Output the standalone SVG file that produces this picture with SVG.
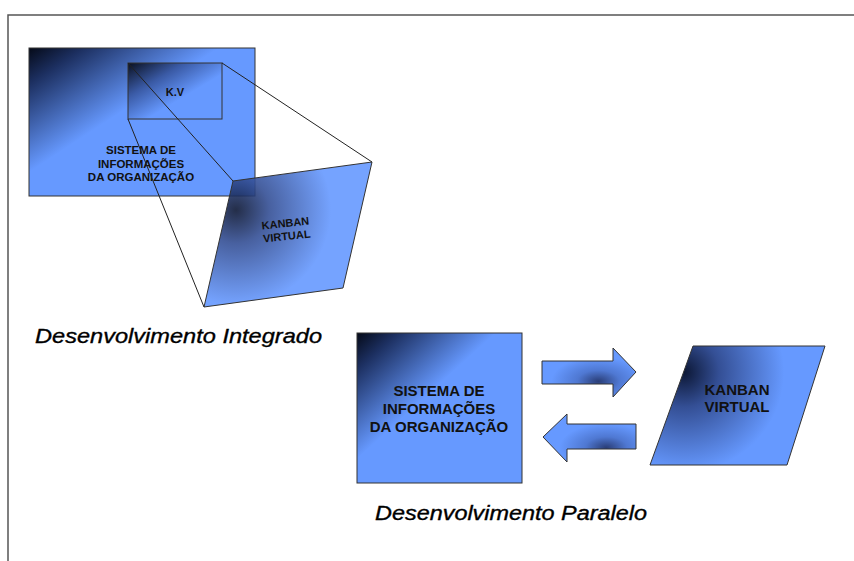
<svg xmlns="http://www.w3.org/2000/svg" width="854" height="561" viewBox="0 0 854 561">
<defs>
<linearGradient id="gBig" x1="0" y1="0" x2="1" y2="1">
<stop offset="0" stop-color="#050a18"/>
<stop offset="0.12" stop-color="#1c2f60"/>
<stop offset="0.42" stop-color="#6699ff"/>
<stop offset="1" stop-color="#6699ff"/>
</linearGradient>
<linearGradient id="gKV" x1="0" y1="0" x2="1" y2="1">
<stop offset="0" stop-color="#0a1020"/>
<stop offset="0.3" stop-color="#3a5aa5"/>
<stop offset="0.6" stop-color="#6699ff"/>
<stop offset="1" stop-color="#6699ff"/>
</linearGradient>
<radialGradient id="gParTop" gradientUnits="userSpaceOnUse" cx="236" cy="210" r="95">
<stop offset="0" stop-color="#0c1735"/>
<stop offset="0.35" stop-color="#344f95"/>
<stop offset="1" stop-color="#6699ff"/>
</radialGradient>
<radialGradient id="gParBot" gradientUnits="userSpaceOnUse" cx="684" cy="372" r="100">
<stop offset="0" stop-color="#0c1735"/>
<stop offset="0.35" stop-color="#344f95"/>
<stop offset="1" stop-color="#6699ff"/>
</radialGradient>
<radialGradient id="gArrowR" cx="0.6" cy="0.68" r="0.5">
<stop offset="0" stop-color="#2a3e78"/>
<stop offset="0.45" stop-color="#4f78d2"/>
<stop offset="1" stop-color="#6699ff"/>
</radialGradient>
<radialGradient id="gArrowL" cx="0.68" cy="0.7" r="0.5">
<stop offset="0" stop-color="#2a3e78"/>
<stop offset="0.45" stop-color="#4f78d2"/>
<stop offset="1" stop-color="#6699ff"/>
</radialGradient>
</defs>
<style>
.frame{stroke:#555;stroke-width:1.5;fill:none}
.shape{stroke:#333;stroke-width:1}
.proj{stroke:#222;stroke-width:1;fill:none}
.lbl{font-family:"Liberation Sans",Arial,sans-serif;font-weight:bold;fill:#111;text-anchor:middle}
.cap{font-family:"Liberation Sans",Arial,sans-serif;font-style:italic;fill:#000;stroke:#000;stroke-width:0.35}
</style>
<rect width="854" height="561" fill="#fff"/>
<path class="frame" d="M8,561 V15 H854"/>

<g id="sistema-top">
<rect class="shape" x="29" y="48" width="226" height="148" fill="url(#gBig)"/>
<text class="lbl" font-size="11.5" x="141" y="154">SISTEMA DE</text>
<text class="lbl" font-size="11.5" x="141" y="167.7">INFORMAÇÕES</text>
<text class="lbl" font-size="11.5" x="141" y="181.3">DA ORGANIZAÇÃO</text>
</g>
<g id="kv">
<rect class="shape" x="128" y="63" width="94" height="56" fill="url(#gKV)"/>
<text class="lbl" font-size="11" x="175" y="96">K.V</text>
</g>
<g id="kanban-top">
<polygon class="shape" points="233,181 372,162 343,288 204,307" fill="url(#gParTop)" fill-opacity="0.9"/>
<g transform="rotate(-6 286 229)">
<text class="lbl" font-size="11" x="286" y="227">KANBAN</text>
<text class="lbl" font-size="11" x="286" y="240">VIRTUAL</text>
</g>
</g>

<g id="sistema-bottom">
<rect class="shape" x="357" y="333" width="165" height="150" fill="url(#gBig)"/>
<text class="lbl" font-size="15" x="439" y="396">SISTEMA DE</text>
<text class="lbl" font-size="15" x="439" y="414">INFORMAÇÕES</text>
<text class="lbl" font-size="15" x="439" y="432">DA ORGANIZAÇÃO</text>
</g>
<g id="kanban-bottom">
<polygon class="shape" points="693,346 825,346 787,465 650,465" fill="url(#gParBot)"/>
<text class="lbl" font-size="15" x="737" y="395">KANBAN</text>
<text class="lbl" font-size="15" x="737" y="412">VIRTUAL</text>
</g>

<g id="connectors">
<line class="proj" x1="128" y1="63" x2="233" y2="181"/>
<line class="proj" x1="128" y1="119" x2="204" y2="307"/>
<line class="proj" x1="222" y1="63" x2="372" y2="162"/>
<polygon class="shape" stroke="#555" points="542,361 613,361 613,348 636,372 613,397 613,384 542,384" fill="url(#gArrowR)"/>
<polygon class="shape" stroke="#555" points="636,424 567,424 567,414 543,437 567,462 567,449 636,449" fill="url(#gArrowL)"/>
</g>

<g id="captions">
<text class="cap" font-size="21" x="35" y="343" textLength="287" lengthAdjust="spacingAndGlyphs">Desenvolvimento Integrado</text>
<text class="cap" font-size="20" x="375" y="520" textLength="272" lengthAdjust="spacingAndGlyphs">Desenvolvimento Paralelo</text>
</g>
</svg>
